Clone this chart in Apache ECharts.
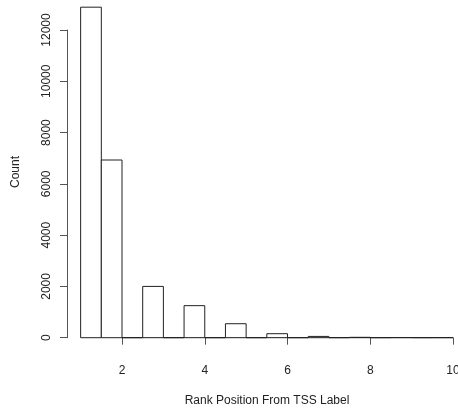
<!DOCTYPE html>
<html>
<head>
<meta charset="utf-8">
<style>
  html, body { margin: 0; padding: 0; background: #fff; overflow: hidden; }
  #chart { width: 458px; height: 411px; }
</style>
<script src="https://cdn.jsdelivr.net/npm/echarts@6/dist/echarts.min.js"></script>
</head>
<body>
<div id="chart"></div>
<script>
// Histogram bins (width 0.5) and their counts
const binStarts = [1, 1.5, 2, 2.5, 3, 3.5, 4, 4.5, 5, 5.5, 6, 6.5, 7, 7.5, 8, 8.5, 9, 9.5];
const binEnds   = [1.5, 2, 2.5, 3, 3.5, 4, 4.5, 5, 5.5, 6, 6.5, 7, 7.5, 8, 8.5, 9, 9.5, 10];
const counts    = [12890, 6930, 0, 2000, 0, 1250, 0, 545, 0, 156, 0, 50, 0, 15, 0, 5, 0, 2];

const xTicks = [2, 4, 6, 8, 10];
const yTicks = [0, 2000, 4000, 6000, 8000, 10000, 12000];

const xTitle = 'Rank Position From TSS Label';
const yTitle = 'Count';

const FONT = 'Liberation Sans, Arial, Helvetica, sans-serif';
const TEXT = '#222';
const AXIS = '#555';

const histData = binStarts.map((s, i) => [s, binEnds[i], counts[i]]);

const chart = echarts.init(document.getElementById('chart'), null, { renderer: 'canvas' });

chart.setOption({
  animation: false,
  backgroundColor: '#fff',
  grid: { left: 122, right: 5, top: 30, bottom: 73.3, containLabel: false, outerBoundsMode: 'none' },
  xAxis: {
    type: 'value',
    min: xTicks[0],
    max: xTicks[xTicks.length - 1],
    interval: 2,
    offset: 13,
    splitLine: { show: false },
    axisLine: { show: true, lineStyle: { color: AXIS, width: 1 } },
    axisTick: { show: true, length: 7, lineStyle: { color: AXIS } },
    axisLabel: { color: TEXT, fontFamily: FONT, fontSize: 12, margin: 14, hideOverlap: false, showMaxLabel: true }
  },
  yAxis: {
    type: 'value',
    min: yTicks[0],
    max: yTicks[yTicks.length - 1],
    interval: 2000,
    offset: 55,
    splitLine: { show: false },
    axisLine: { show: true, lineStyle: { color: AXIS, width: 1 } },
    axisTick: { show: true, length: 7, lineStyle: { color: AXIS } },
    axisLabel: {
      color: TEXT, fontFamily: FONT, fontSize: 12, rotate: 90, margin: 14,
      formatter: function (v) { return String(v); }
    }
  },
  graphic: [
    {
      type: 'text', x: 267, y: 401,
      style: { text: xTitle, fill: TEXT, font: '12px ' + FONT, align: 'center', verticalAlign: 'middle' }
    },
    {
      type: 'text', x: 16, y: 172, rotation: Math.PI / 2,
      style: { text: yTitle, fill: TEXT, font: '12px ' + FONT, align: 'center', verticalAlign: 'middle' }
    }
  ],
  series: [{
    type: 'custom',
    clip: false,
    data: histData,
    encode: { x: [0, 1], y: 2 },
    renderItem: function (params, api) {
      const p0 = api.coord([api.value(0), api.value(2)]);
      const p1 = api.coord([api.value(1), 0]);
      return {
        type: 'rect',
        shape: { x: p0[0], y: p0[1], width: p1[0] - p0[0], height: p1[1] - p0[1] },
        style: { fill: '#fff', stroke: '#222', lineWidth: 1 }
      };
    }
  }]
});
</script>
</body>
</html>
